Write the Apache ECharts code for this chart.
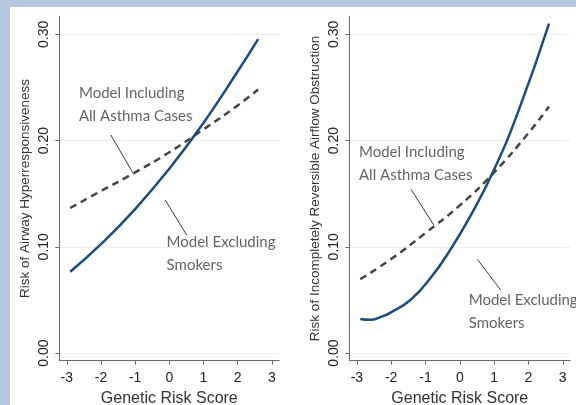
<!DOCTYPE html>
<html>
<head>
<meta charset="utf-8">
<script src="https://cdn.jsdelivr.net/npm/echarts@6/dist/echarts.min.js"></script>
<style>
html, body { margin: 0; padding: 0; background: #b5c7e1; width: 576px; height: 405px; overflow: hidden; }
#main { position: absolute; left: 10px; top: 7px; width: 566px; height: 398px; background: #ffffff; }
</style>
</head>
<body>
<div id="main"></div>
<script>
// ---- data ----
const xTicks = [-3, -2, -1, 0, 1, 2, 3];
const yTicks = [0, 0.1, 0.2, 0.3];

// Left panel: Airway Hyperresponsiveness
const ahrX = [-2.9, -2, -1, 0, 1, 2, 2.6];
const ahrExcludingSmokers = [0.0765, 0.1025, 0.1355, 0.1735, 0.2165, 0.265, 0.2955];
const ahrIncludingAll = [0.1365, 0.1525, 0.170, 0.189, 0.2105, 0.233, 0.248];

// Right panel: Incompletely Reversible Airflow Obstruction
const iraoExclX = [-2.9, -2.6, -2.3, -2.03, -1.44, -0.86, -0.27, 0.31, 0.99, 1.7, 2.6];
const iraoExcludingSmokers = [0.032, 0.0312, 0.034, 0.0378, 0.0499, 0.0703, 0.0975, 0.129, 0.172, 0.227, 0.310];
const iraoInclX = [-2.9, -2, -1, 0, 1, 2, 2.6];
const iraoIncludingAll = [0.0695, 0.0885, 0.113, 0.139, 0.170, 0.207, 0.232];

const labelIncl = ['Model Including', 'All Asthma Cases'];
const labelExcl = ['Model Excluding', 'Smokers'];
const xTitle = 'Genetic Risk Score';
const yTitleLeft = 'Risk of Airway Hyperresponsiveness';
const yTitleRight = 'Risk of Incompletely Reversible Airflow Obstruction';

// annotation anchors (data space)
const leftInclText = [[-2.66, 0.2445], [-2.66, 0.2231]];
const leftInclPointer = [[-1.71, 0.2052], [-1.07, 0.1697]];
const leftExclText = [[-0.094, 0.104], [-0.094, 0.0824]];
const leftExclPointer = [[-0.12, 0.144], [0.51, 0.111]];
const rightInclText = [[-2.953, 0.1892], [-2.953, 0.1676]];
const rightInclPointer = [[-1.42, 0.154], [-0.76, 0.1205]];
const rightExclText = [[0.246, 0.0499], [0.246, 0.0285]];
const rightExclPointer = [[0.51, 0.0882], [1.19, 0.0593]];

// ---- build ----
const zip = (xs, ys) => xs.map((x, i) => [x, ys[i]]);
const axisColor = '#6b6b6b';
const tickFont = 'Liberation Sans, Arial, sans-serif';
const noteFont = 'Lato, Carlito, Calibri, sans-serif';

function xAxisFor(gi) {
  return {
    type: 'value', gridIndex: gi, min: -3.22, max: 3.22,
    name: xTitle, nameLocation: 'middle', nameGap: 30,
    nameTextStyle: { fontFamily: tickFont, fontSize: 16, color: '#333' },
    axisLine: { show: true, onZero: false, lineStyle: { color: axisColor, width: 1 } },
    axisTick: { show: true, length: 4, customValues: xTicks, lineStyle: { color: axisColor } },
    axisLabel: { customValues: xTicks, margin: 10, fontFamily: tickFont, fontSize: 14, color: '#222' },
    splitLine: { show: false }
  };
}
function yAxisFor(gi, title) {
  return {
    type: 'value', gridIndex: gi, min: -0.0072, max: 0.317,
    name: title, nameLocation: 'middle', nameGap: 27,
    nameTextStyle: { fontFamily: tickFont, fontSize: 13.5, color: '#333' },
    axisLine: { show: true, onZero: false, lineStyle: { color: axisColor, width: 1 } },
    axisTick: { show: true, length: 4, customValues: yTicks, lineStyle: { color: axisColor } },
    axisLabel: { customValues: yTicks, rotate: 90, margin: 8, fontFamily: tickFont, fontSize: 14, color: '#222',
      formatter: v => v.toFixed(2) },
    splitLine: { show: true, lineStyle: { color: '#e7efef', width: 1 } }
  };
}
function curve(gi, data, dashed) {
  return {
    type: 'line', xAxisIndex: gi, yAxisIndex: gi, data: data, smooth: 0.5,
    symbol: 'none', silent: true, z: dashed ? 3 : 4,
    lineStyle: dashed ? { color: '#444444', width: 2.5, type: [7, 5] } : { color: '#1d4c7c', width: 2.5 }
  };
}
function pointer(gi, pts) {
  return {
    type: 'line', xAxisIndex: gi, yAxisIndex: gi, data: pts, symbol: 'none', silent: true,
    lineStyle: { color: '#3a3a3a', width: 1 }, z: 2
  };
}
function note(gi, pts, texts) {
  return {
    type: 'scatter', xAxisIndex: gi, yAxisIndex: gi, symbolSize: 1, silent: true,
    itemStyle: { color: 'rgba(0,0,0,0)' },
    data: pts.map((p, i) => ({ value: p, name: texts[i] })),
    label: { show: true, position: 'right', distance: 0, formatter: p => p.name,
      fontFamily: noteFont, fontSize: 15, color: '#3c3c3c' }
  };
}

const option = {
  animation: false,
  backgroundColor: '#ffffff',
  grid: [
    { left: 49.3, top: 9.25, width: 220, height: 344.4, containLabel: false, outerBoundsMode: 'none' },
    { left: 339.3, top: 9.25, width: 221, height: 344.4, containLabel: false, outerBoundsMode: 'none' }
  ],
  xAxis: [xAxisFor(0), xAxisFor(1)],
  yAxis: [yAxisFor(0, yTitleLeft), yAxisFor(1, yTitleRight)],
  series: [
    curve(0, zip(ahrX, ahrIncludingAll), true),
    curve(0, zip(ahrX, ahrExcludingSmokers), false),
    curve(1, zip(iraoInclX, iraoIncludingAll), true),
    curve(1, zip(iraoExclX, iraoExcludingSmokers), false),
    pointer(0, leftInclPointer), pointer(0, leftExclPointer),
    pointer(1, rightInclPointer), pointer(1, rightExclPointer),
    note(0, leftInclText, labelIncl), note(0, leftExclText, labelExcl),
    note(1, rightInclText, labelIncl), note(1, rightExclText, labelExcl)
  ]
};
const chart = echarts.init(document.getElementById('main'), null, { renderer: 'canvas' });
chart.setOption(option);
</script>
</body>
</html>
